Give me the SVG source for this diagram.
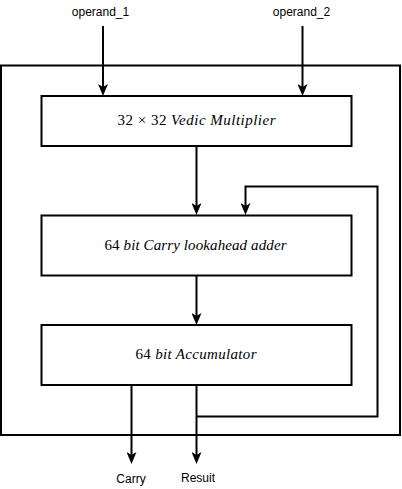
<svg xmlns="http://www.w3.org/2000/svg" width="402" height="489" viewBox="0 0 402 489">
  <style>
    .box { fill: #ffffff; stroke: #000000; stroke-width: 2; }
    .frame { fill: none; stroke: #000000; stroke-width: 2; }
    .wire { fill: none; stroke: #000000; stroke-width: 2; }
    .lbl { font-family: "Liberation Sans", Arial, sans-serif; font-size: 12px; fill: #000000; text-anchor: middle; }
    .math { font-family: "Liberation Serif", "Times New Roman", serif; font-size: 15px; fill: #000000; text-anchor: middle; }
    .it { font-style: italic; }
  </style>
  <defs>
    <marker id="arrow" markerUnits="userSpaceOnUse" markerWidth="12" markerHeight="10" viewBox="0 0 12 10" refX="3" refY="5" orient="auto">
      <path d="M0,0 L12,5 L0,10 L3,5 Z" fill="#000000"/>
    </marker>
  </defs>

  <g id="frame">
    <rect class="frame" x="1" y="65.5" width="399" height="369.5"/>
  </g>

  <g id="multiplier">
    <rect class="box" x="41.5" y="96" width="310" height="50"/>
    <text class="math" x="196.5" y="125" textLength="158" lengthAdjust="spacing">32 × 32 <tspan class="it">Vedic Multiplier</tspan></text>
  </g>

  <g id="cla">
    <rect class="box" x="41.5" y="215.5" width="310" height="60"/>
    <text class="math" x="195.5" y="250" textLength="182" lengthAdjust="spacing">64 <tspan class="it">bit Carry lookahead adder</tspan></text>
  </g>

  <g id="accumulator">
    <rect class="box" x="41.5" y="325" width="310" height="60"/>
    <text class="math" x="196" y="359" textLength="121" lengthAdjust="spacing">64 <tspan class="it">bit Accumulator</tspan></text>
  </g>

  <g id="labels">
    <text class="lbl" x="100.5" y="16">operand_1</text>
    <text class="lbl" x="301.5" y="16">operand_2</text>
    <text class="lbl" x="131" y="483">Carry</text>
    <text class="lbl" x="198" y="482">Resuit</text>
  </g>

  <g id="connectors">
    <path class="wire" d="M103,26 L103,87" marker-end="url(#arrow)"/>
    <path class="wire" d="M302.5,26 L302.5,87" marker-end="url(#arrow)"/>
    <path class="wire" d="M196.5,146 L196.5,206" marker-end="url(#arrow)"/>
    <path class="wire" d="M196.5,275.5 L196.5,316" marker-end="url(#arrow)"/>
    <path class="wire" d="M131.5,385 L131.5,455" marker-end="url(#arrow)"/>
    <path class="wire" d="M196.5,385 L196.5,455" marker-end="url(#arrow)"/>
    <path class="wire" d="M196.5,416.5 L377.5,416.5 L377.5,186.5 L245.5,186.5 L245.5,206" marker-end="url(#arrow)"/>
  </g>
</svg>
